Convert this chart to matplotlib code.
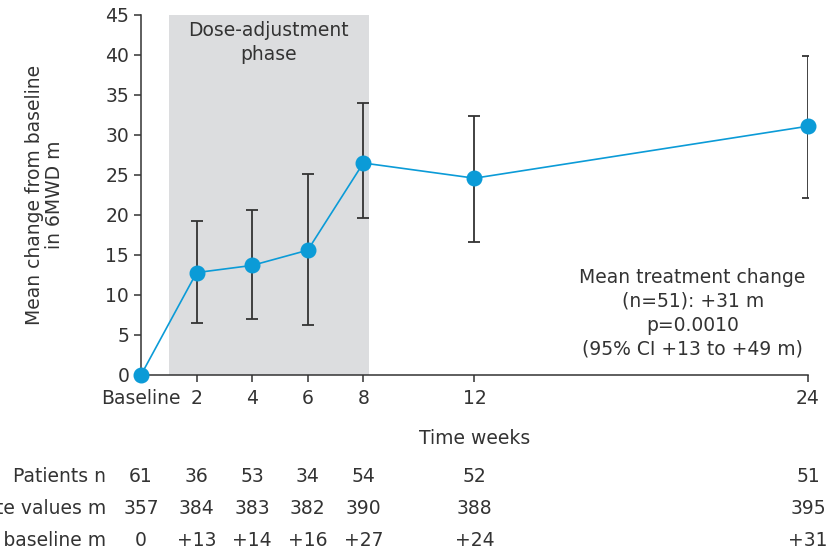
import matplotlib
matplotlib.use("Agg")
import matplotlib.pyplot as plt
import matplotlib.transforms as mtransforms

weeks = [0, 2, 4, 6, 8, 12, 24]
tick_labels = ["Baseline", "2", "4", "6", "8", "12", "24"]
mean_change = [0, 12.8, 13.7, 15.6, 26.5, 24.6, 31.1]
err_upper = [0, 19.3, 20.6, 25.1, 34.0, 32.4, 39.9]
err_lower = [0, 6.5, 7.0, 6.25, 19.6, 16.6, 22.1]
patients_n = ["61", "36", "53", "34", "54", "52", "51"]
absolute_values = ["357", "384", "383", "382", "390", "388", "395"]
change_from_baseline = ["0", "+13", "+14", "+16", "+27", "+24", "+31"]
row_labels = ["Patients n", "Absolute values m", "Change from baseline m"]
dose_phase = (1.0, 8.2)

plt.rcParams['font.family'] = ['DejaVu Sans']
text_color = "#333333"
blue = "#0b9bd7"
fs = 13.5

W, H = 837, 555
fig = plt.figure(figsize=(W / 100, H / 100), dpi=100)
ax = fig.add_axes([141 / W, (H - 375) / H, 667 / W, 360 / H])

ax.axvspan(dose_phase[0], dose_phase[1], color="#dcdddf", zorder=0, lw=0)
ax.text(sum(dose_phase) / 2, 44.2, "Dose-adjustment\nphase", ha="center", va="top",
        fontsize=fs, color=text_color, linespacing=1.28)

yerr_lo = [m - l for m, l in zip(mean_change, err_lower)]
yerr_hi = [u - m for m, u in zip(mean_change, err_upper)]
ax.errorbar(weeks[1:], mean_change[1:], yerr=[yerr_lo[1:], yerr_hi[1:]], fmt="none",
            ecolor="#333333", elinewidth=1.3, capsize=4, capthick=1.3, zorder=2)
ax.plot(weeks, mean_change, color=blue, lw=1.2, marker="o", markersize=10.5,
        markerfacecolor=blue, markeredgecolor=blue, zorder=3, clip_on=False)

ax.set_xlim(0, 24)
ax.set_ylim(0, 45)
ax.set_xticks(weeks)
ax.set_xticklabels(tick_labels)
ax.set_yticks(range(0, 46, 5))
ax.tick_params(axis="both", labelsize=fs, colors=text_color, length=5, width=1.1)
ax.tick_params(axis="x", pad=5)
for s in ["top", "right"]:
    ax.spines[s].set_visible(False)
for s in ["left", "bottom"]:
    ax.spines[s].set_color(text_color)
    ax.spines[s].set_linewidth(1.1)

ax.set_xlabel("Time weeks", fontsize=fs, color=text_color, labelpad=15)
ax.set_ylabel("Mean change from baseline\nin 6MWD m", fontsize=fs, color=text_color,
              labelpad=30, linespacing=1.05)

ax.text(19.85, 7.7, "Mean treatment change\n(n=51): +31 m\np=0.0010\n(95% CI +13 to +49 m)",
        ha="center", va="center", fontsize=fs, color=text_color, linespacing=1.33)

trans = mtransforms.blended_transform_factory(ax.transData, fig.transFigure)
rows = [patients_n, absolute_values, change_from_baseline]
row_y = [476, 508, 540]
for label, vals, yp in zip(row_labels, rows, row_y):
    yf = 1 - yp / H
    fig.text(106 / W, yf, label, ha="right", va="center", fontsize=fs, color=text_color)
    for w, v in zip(weeks, vals):
        ax.text(w, yf, v, transform=trans, ha="center", va="center", fontsize=fs,
                color=text_color, clip_on=False)

fig.savefig("out.png", dpi=100)
